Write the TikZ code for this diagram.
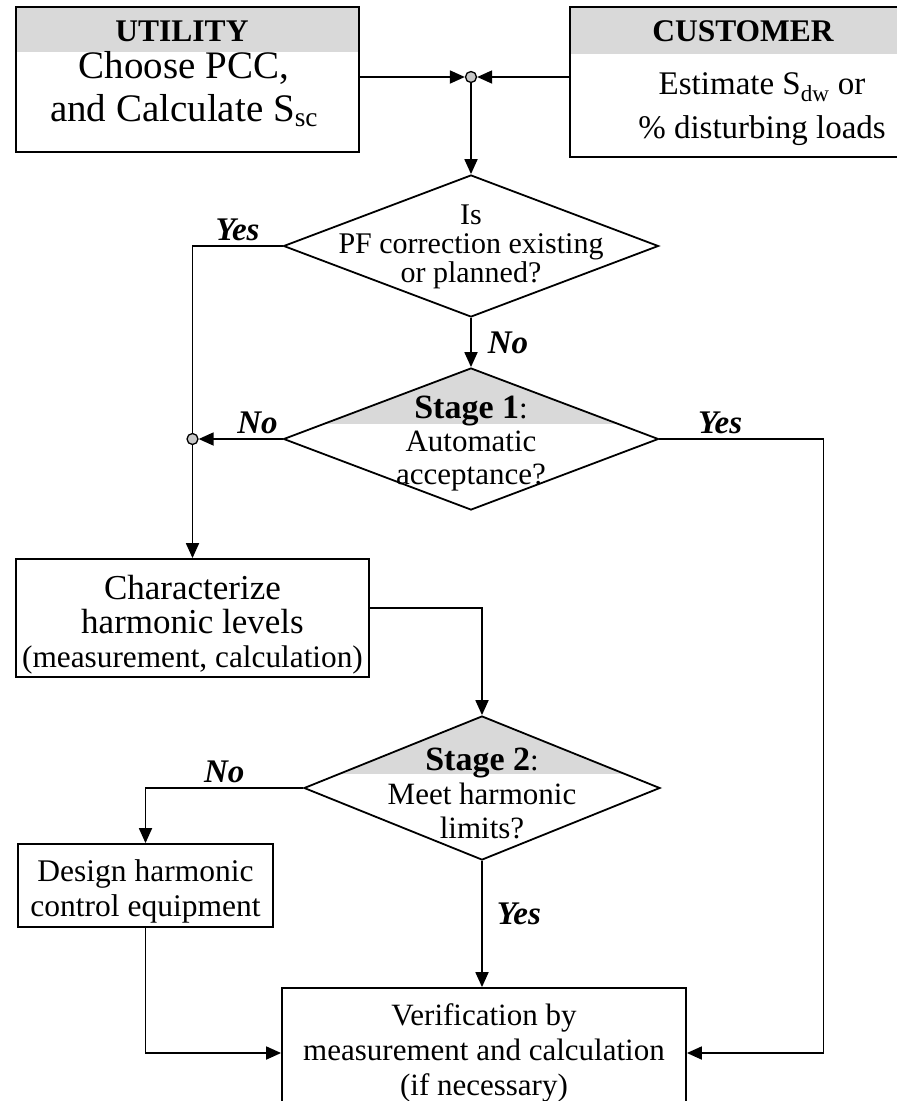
\documentclass[tikz,border=0pt]{standalone}
\usepackage{fontspec}
\setmainfont{Liberation Serif}
\usetikzlibrary{arrows.meta,shapes.geometric}
\definecolor{hdrgray}{RGB}{217,217,217}
\definecolor{dotgray}{RGB}{200,200,200}
\newcommand{\fs}[2]{\fontsize{#1}{#2}\selectfont}

\begin{document}
\begin{tikzpicture}[x=1pt,y=-1pt,line width=1.8pt,
  box/.style={draw, rectangle, inner sep=0pt, align=center},
  hdrbox/.style={box, path picture={\fill[hdrgray] (path picture bounding box.north west) rectangle ([yshift=-#1]path picture bounding box.north east);}},
  decision/.style={draw, diamond, inner sep=0pt, minimum width=375pt, minimum height=142pt},
  stage/.style={decision, path picture={\fill[hdrgray] (path picture bounding box.north west) rectangle ([yshift=#1]path picture bounding box.east);}},
  dot/.style={circle, draw, fill=dotgray, inner sep=0pt, minimum size=11pt, line width=1.3pt},
  txt/.style={align=center, inner sep=0pt, font=\fs{31}{30}},
  head/.style={inner sep=0pt, font=\fs{31.5}{30}\bfseries},
  lab/.style={inner sep=4pt, font=\fs{33}{33}\bfseries\itshape},
  flow/.style={-{Triangle[length=15pt,width=13pt]}}]
\useasboundingbox (0,0) rectangle (897,1101);
\clip (0,0) rectangle (897,1101);

% top boxes
\node[hdrbox=45pt, minimum width=343pt, minimum height=145pt] (util) at (187.5,79.5) {};
\node[head] (utilhead) at (182,31) {UTILITY};
\node[txt, font=\fs{39}{43}] (utiltxt) at (184,89) {Choose PCC,\\and Calculate S\textsubscript{sc}};
\node[hdrbox=47pt, minimum width=346pt, minimum height=150pt] (cust) at (743,82) {};
\node[head] (custhead) at (743,31) {CUSTOMER};
\node[txt, font=\fs{33}{44}] (custtxt) at (762,109) {Estimate S\textsubscript{dw} or\\\% disturbing loads};

% decisions
\node[decision] (pf) at (471,246) {};
\node[txt, font=\fs{30}{29}] (pftxt) at (471,247) {Is\\PF correction existing\\or planned?};
\node[stage=15pt] (stone) at (471,439) {};
\node[txt, font=\fs{31}{33}] (stonetxt) at (471,444) {{\fs{34}{33}\bfseries Stage 1}:\\Automatic\\acceptance?};
\node[stage=14pt, minimum width=356pt, minimum height=144pt] (sttwo) at (482,788) {};
\node[txt, font=\fs{31}{34}] (sttwotxt) at (482,793) {{\fs{34}{34}\bfseries Stage 2}:\\Meet harmonic\\limits?};

% process boxes
\node[box, minimum width=353pt, minimum height=118pt] (charac) at (192.5,618) {};
\node[txt, font=\fs{35}{34}] (charactxt) at (192.5,625) {Characterize\\harmonic levels\\\fs{31.3}{34}(measurement, calculation)};
\node[box, minimum width=255pt, minimum height=83pt] (design) at (145.5,885.5) {};
\node[txt, font=\fs{31.5}{35}] (designtxt) at (145.5,891) {Design harmonic\\control equipment};
\node[box, minimum width=404pt, minimum height=130pt, font=\fs{31}{35}] (verif) at (484,1053) {Verification by\\measurement and calculation\\(if necessary)};

% connectors
\node[dot] (join) at (471,77) {};
\draw[flow] (util.east |- join) -- (join);
\draw[flow] (cust.west |- join) -- (join);
\draw[flow] (join) -- (pf.north);
\draw[flow] (pf.west) -- node[lab, above] {Yes} (pf.west -| charac.north) -- (charac.north);
\draw[flow] (pf.south) -- node[lab, right=12pt] {No} (stone.north);
\node[dot] (tap) at (stone.west -| charac.north) {};
\draw[flow] (stone.west) -- node[lab, above, pos=0.3] {No} (tap);
\draw[flow] (stone.east) -- node[lab, above, pos=0.37] {Yes} ++(164,0) |- (verif.east);
\draw[flow] ([yshift=10pt]charac.east) -| (sttwo.north);
\draw[flow] (sttwo.west) -- node[lab, above] {No} (sttwo.west -| design.north) -- (design.north);
\draw[flow] (sttwo.south) -- node[lab, right=10pt, pos=0.42] {Yes} (sttwo.south |- verif.north);
\draw[flow] (design.south) |- (verif.west);
\end{tikzpicture}
\end{document}
